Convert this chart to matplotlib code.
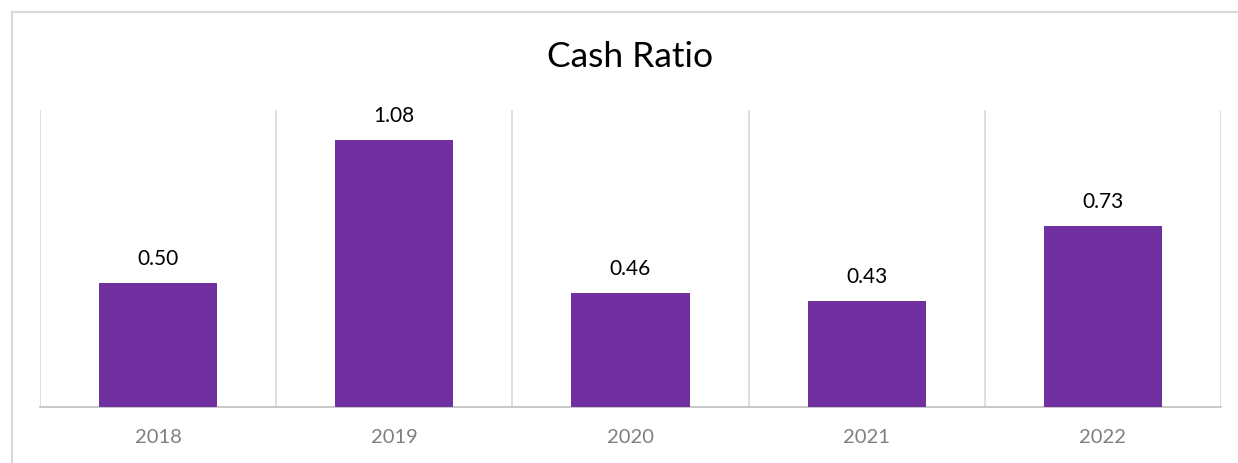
import matplotlib.pyplot as plt
from matplotlib.lines import Line2D

years = ['2018', '2019', '2020', '2021', '2022']
cash_ratio = [0.50, 1.08, 0.46, 0.43, 0.73]

plt.rcParams['font.family'] = ['Lato', 'DejaVu Sans']

W, H = 1238, 463
fig = plt.figure(figsize=(W / 100, H / 100), dpi=100)

# plot area in pixels: x 40..1221, y 110..407
ax = fig.add_axes([40 / W, 1 - 407 / H, (1221 - 40) / W, (407 - 110) / H])

x = range(len(years))
bars = ax.bar(x, cash_ratio, width=0.5, color='#7030A0', zorder=3)

for b, v in zip(bars, cash_ratio):
    ax.annotate('%.2f' % v, xy=(b.get_x() + b.get_width() / 2, v),
                xytext=(0, 10), textcoords='offset points',
                ha='center', va='bottom', fontsize=15, color='black')

ax.set_xlim(-0.5, len(years) - 0.5)
ax.set_ylim(0, 1.2)
ax.set_yticks([])
ax.set_xticks(list(x))
ax.set_xticklabels(years, fontsize=14.5, color='#7F7F7F')
ax.tick_params(axis='x', length=0, pad=16)

# vertical gridlines between categories
for i in range(len(years) + 1):
    ax.axvline(i - 0.5, color='#D9D9D9', lw=1.2, zorder=1)

for s in ['top', 'right', 'left']:
    ax.spines[s].set_visible(False)
ax.spines['bottom'].set_color('#BFBFBF')
ax.spines['bottom'].set_linewidth(1.2)

fig.text((40 + 1221) / 2 / W, 1 - 57 / H, 'Cash Ratio', ha='center', va='center',
         fontsize=25.5, color='black')

# outer frame (left and top edges visible)
fig.add_artist(Line2D([11.5 / W, 11.5 / W], [0, 1 - 11.5 / H], color='#D9D9D9', lw=1.5,
                      transform=fig.transFigure))
fig.add_artist(Line2D([11.5 / W, 1], [1 - 11.5 / H, 1 - 11.5 / H], color='#D9D9D9', lw=1.5,
                      transform=fig.transFigure))

fig.savefig('out.png', dpi=100)
